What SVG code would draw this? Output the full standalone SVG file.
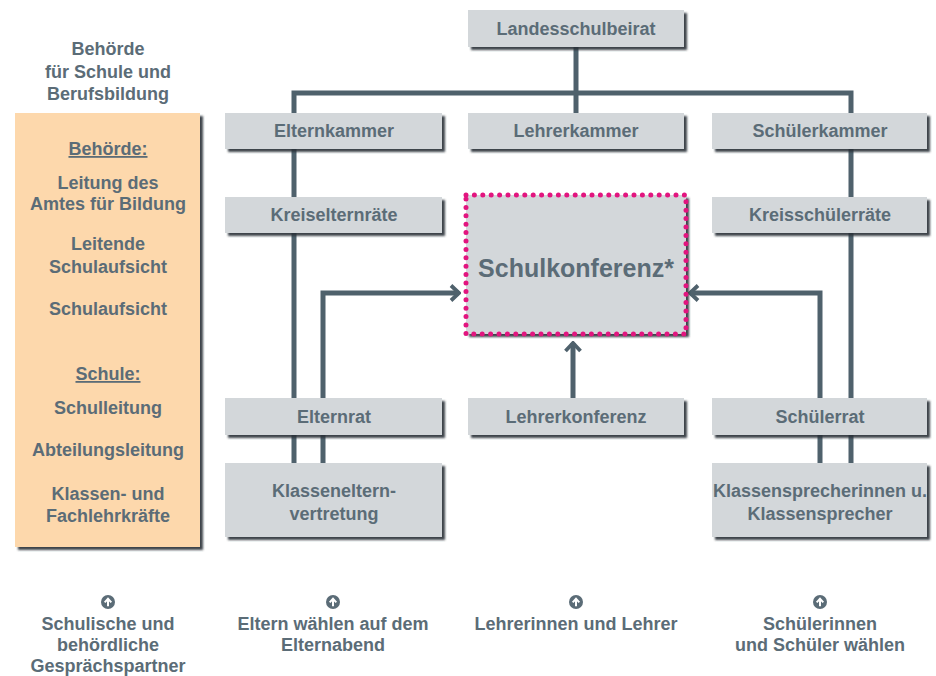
<svg xmlns="http://www.w3.org/2000/svg" width="936" height="676" viewBox="0 0 936 676">
<defs>
<filter id="sh" x="-10%" y="-10%" width="125%" height="140%">
<feDropShadow dx="3" dy="3" stdDeviation="1.2" flood-color="#2c3338" flood-opacity="0.9"/>
</filter>
<marker id="chev" viewBox="0 0 12 18" refX="10" refY="9" markerWidth="12" markerHeight="18" markerUnits="userSpaceOnUse" orient="auto">
<path d="M2,1.5 L10,9 L2,16.5" fill="none" stroke="#4f616c" stroke-width="3.8"/>
</marker>
<g id="ico">
<circle r="7" fill="#5b6c77"/>
<path d="M0,4.2 V-2.8 M-3.3,0.4 L0,-3.2 L3.3,0.4" fill="none" stroke="#fff" stroke-width="2"/>
</g>
</defs>
<style>
text{font-family:"Liberation Sans Narrow","Liberation Sans",Arial,sans-serif;font-weight:bold;fill:#5b6c77;text-anchor:middle}
.b{font-size:18px}
.box{fill:#d3d7da;filter:url(#sh)}
.ln{fill:none;stroke:#4f616c;stroke-width:5}
.t{font-size:18px}
</style>
<rect width="936" height="676" fill="#ffffff"/>

<g id="connectors">
<path class="ln" d="M576,46 V115"/>
<path class="ln" d="M294,115 V93 H851 V115"/>
<path class="ln" d="M294,148 V465"/>
<path class="ln" d="M851,148 V465"/>
<path class="ln" d="M323,465 V293 H459" marker-end="url(#chev)"/>
<path class="ln" d="M820,465 V293 H690" marker-end="url(#chev)"/>
<path class="ln" d="M573,400 V343" marker-end="url(#chev)"/>
</g>

<g id="leftpanel">
<text class="t" x="108" y="55">Behörde</text>
<text class="t" x="108" y="78">für Schule und</text>
<text class="t" x="108" y="100">Berufsbildung</text>
<rect x="15" y="113" width="185" height="434" fill="#fdd8ac" filter="url(#sh)"/>
<text class="t" x="108" y="155" text-decoration="underline">Behörde:</text>
<text class="t" x="108" y="189">Leitung des</text>
<text class="t" x="108" y="210">Amtes für Bildung</text>
<text class="t" x="108" y="250">Leitende</text>
<text class="t" x="108" y="273">Schulaufsicht</text>
<text class="t" x="108" y="315">Schulaufsicht</text>
<text class="t" x="108" y="380" text-decoration="underline">Schule:</text>
<text class="t" x="108" y="414">Schulleitung</text>
<text class="t" x="108" y="456">Abteilungsleitung</text>
<text class="t" x="108" y="500">Klassen- und</text>
<text class="t" x="108" y="522">Fachlehrkräfte</text>
</g>

<g id="landesschulbeirat"><rect class="box" x="468" y="10" width="216" height="37"/><text class="b" x="576" y="35">Landesschulbeirat</text></g>
<g id="elternkammer"><rect class="box" x="225" y="113" width="217" height="36"/><text class="b" x="334" y="137">Elternkammer</text></g>
<g id="lehrerkammer"><rect class="box" x="468" y="113" width="216" height="36"/><text class="b" x="576" y="137">Lehrerkammer</text></g>
<g id="schuelerkammer"><rect class="box" x="712" y="113" width="215" height="36"/><text class="b" x="820" y="137">Schülerkammer</text></g>
<g id="kreiselternraete"><rect class="box" x="225" y="197" width="217" height="36"/><text class="b" x="334" y="221">Kreiselternräte</text></g>
<g id="kreisschuelerraete"><rect class="box" x="712" y="197" width="215" height="36"/><text class="b" x="820" y="221">Kreisschülerräte</text></g>

<g id="schulkonferenz">
<rect class="box" x="466" y="195" width="220" height="139"/>
<rect x="466" y="195" width="220" height="139" fill="none" stroke="#e2157f" stroke-width="5" stroke-linecap="round" stroke-dasharray="0 8.4"/>
<text x="576" y="277" style="font-size:25px">Schulkonferenz*</text>
</g>

<g id="elternrat"><rect class="box" x="225" y="398" width="217" height="37"/><text class="b" x="334" y="423">Elternrat</text></g>
<g id="lehrerkonferenz"><rect class="box" x="468" y="398" width="216" height="37"/><text class="b" x="576" y="423">Lehrerkonferenz</text></g>
<g id="schuelerrat"><rect class="box" x="712" y="398" width="215" height="37"/><text class="b" x="820" y="423">Schülerrat</text></g>
<g id="klasseneltern"><rect class="box" x="225" y="463" width="217" height="74"/><text class="b" x="334" y="497">Klasseneltern-</text><text class="b" x="334" y="520">vertretung</text></g>
<g id="klassensprecher"><rect class="box" x="712" y="463" width="215" height="74"/><text class="b" x="820" y="497">Klassensprecherinnen u.</text><text class="b" x="820" y="520">Klassensprecher</text></g>

<g id="bottom">
<use href="#ico" x="108" y="602"/>
<use href="#ico" x="333" y="602"/>
<use href="#ico" x="576" y="602"/>
<use href="#ico" x="820" y="602"/>
<text class="t" x="108" y="630">Schulische und</text>
<text class="t" x="108" y="651">behördliche</text>
<text class="t" x="108" y="672">Gesprächspartner</text>
<text class="t" x="333" y="630">Eltern wählen auf dem</text>
<text class="t" x="333" y="651">Elternabend</text>
<text class="t" x="576" y="630">Lehrerinnen und Lehrer</text>
<text class="t" x="820" y="630">Schülerinnen</text>
<text class="t" x="820" y="651">und Schüler wählen</text>
</g>
</svg>
